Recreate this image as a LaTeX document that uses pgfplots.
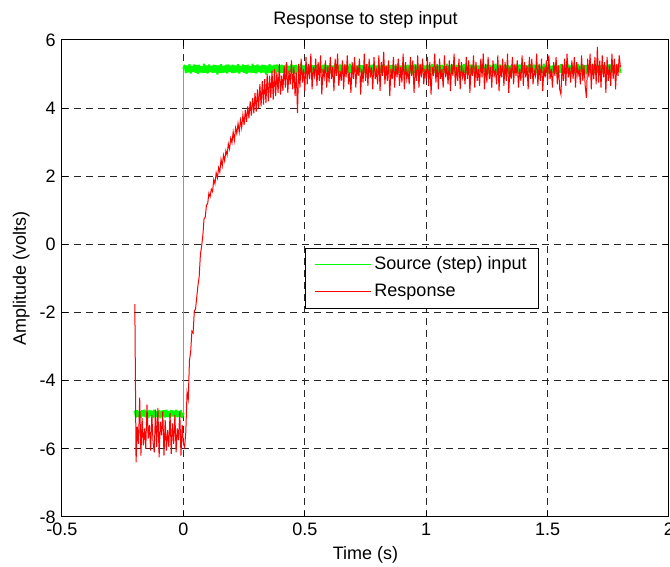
\documentclass[border=0pt]{standalone}
\usepackage{fontspec}
\setmainfont{Liberation Sans}
\usepackage{pgfplots}
\pgfplotsset{compat=1.18}
\begin{document}
\fontsize{9}{11}\selectfont
\begin{tikzpicture}
\begin{axis}[
  at={(31pt,25pt)}, anchor=south west,
  scale only axis, width=303.5pt, height=238.5pt,
  xmin=-0.5, xmax=2, ymin=-8, ymax=6,
  xtick={-0.5,0,0.5,1,1.5,2}, xticklabels={-0.5,0,0.5,1,1.5,2},
  ytick={-8,-6,-4,-2,0,2,4,6}, yticklabels={-8,-6,-4,-2,0,2,4,6},
  tick align=inside, tick pos=both, major tick length=3pt,
  every tick/.style={black, line width=0.5pt},
  axis line style={line width=0.5pt},
  grid=major,
  major grid style={line width=0.5pt, black!85, dash pattern=on 3.5pt off 2.5pt},
  axis on top=false,
  tick label style={font=\fontsize{9}{11}\selectfont},
  title={Response to step input},
  every axis title shift=0pt,
  title style={at={(axis description cs:0.5,1)}, anchor=south, yshift=2.5pt, font=\fontsize{9}{11}\selectfont},
  xlabel={Time (s)}, ylabel={Amplitude (volts)},
  every axis x label/.style={at={(axis description cs:0.5,0)}, anchor=base, yshift=-21.5pt, font=\fontsize{9}{11}\selectfont},
  every axis y label/.style={at={(axis description cs:0,0.5)}, rotate=90, anchor=base, yshift=18pt, font=\fontsize{9}{11}\selectfont},
  legend style={at={(axis description cs:0.4003,0.564)}, anchor=north west, draw=black, line width=0.5pt, fill=white,
    font=\fontsize{9}{11}\selectfont, inner xsep=4.5pt, inner ysep=1.5pt,
    nodes={inner xsep=1.5pt, inner ysep=2.5pt, text height=6.5pt, text depth=2pt}},
  legend cell align=left,
  legend image code/.code={\draw[#1, line width=0.5pt] (0pt,0pt) -- (28pt,0pt);},
]
% source (step) input: low level before the step (noise band)
\addplot[color={rgb,1:red,0;green,1;blue,0}, line width=1pt, line join=bevel, forget plot] coordinates {
(-0.200,-4.88)(-0.195,-5.08)(-0.190,-4.86)(-0.185,-5.06)(-0.180,-4.90)(-0.175,-5.09)(-0.170,-4.87)(-0.165,-5.05)(-0.160,-4.85)(-0.155,-5.08)
(-0.150,-4.89)(-0.145,-5.10)(-0.140,-4.86)(-0.135,-5.04)(-0.130,-4.88)(-0.125,-5.09)(-0.120,-4.85)(-0.115,-5.07)(-0.110,-4.90)(-0.105,-5.06)
(-0.100,-4.86)(-0.095,-5.10)(-0.090,-4.88)(-0.085,-5.05)(-0.080,-4.87)(-0.075,-5.08)(-0.070,-4.85)(-0.065,-5.06)(-0.060,-4.89)(-0.055,-5.09)
(-0.050,-4.86)(-0.045,-5.05)(-0.040,-4.88)(-0.035,-5.08)(-0.030,-4.85)(-0.025,-5.07)(-0.020,-4.89)(-0.015,-5.06)(-0.010,-4.87)(-0.005,-5.09)
(0.000,-4.95)
};
% source (step) input: the step itself
\addplot[color={rgb,1:red,0;green,1;blue,0}, line width=0.6pt] coordinates {
(0.000,-4.95)(0.000,5.15)
};
\addlegendentry{Source (step) input}
% source (step) input: high level after the step (noise band)
\addplot[color={rgb,1:red,0;green,1;blue,0}, line width=1pt, line join=bevel, forget plot] coordinates {
(0.000,5.15)
(0.005,5.27)(0.010,5.03)(0.015,5.25)(0.020,5.05)(0.025,5.29)(0.030,5.02)(0.035,5.24)(0.040,5.06)(0.045,5.28)(0.050,5.04)
(0.055,5.26)(0.060,5.01)(0.065,5.27)(0.070,5.05)(0.075,5.23)(0.080,5.03)(0.085,5.30)(0.090,5.04)(0.095,5.25)(0.100,5.02)
(0.105,5.28)(0.110,5.06)(0.115,5.24)(0.120,5.03)(0.125,5.27)(0.130,5.05)(0.135,5.26)(0.140,4.99)(0.145,5.25)(0.150,5.04)
(0.155,5.29)(0.160,5.03)(0.165,5.24)(0.170,5.05)(0.175,5.27)(0.180,5.02)(0.185,5.28)(0.190,5.06)(0.195,5.25)(0.200,5.03)
(0.205,5.27)(0.210,5.03)(0.215,5.25)(0.220,5.05)(0.225,5.29)(0.230,5.02)(0.235,5.24)(0.240,5.06)(0.245,5.28)(0.250,5.04)
(0.255,5.26)(0.260,5.01)(0.265,5.27)(0.270,5.05)(0.275,5.23)(0.280,5.03)(0.285,5.30)(0.290,5.04)(0.295,5.25)(0.300,5.02)
(0.305,5.28)(0.310,5.06)(0.315,5.24)(0.320,5.03)(0.325,5.27)(0.330,5.05)(0.335,5.26)(0.340,4.99)(0.345,5.25)(0.350,5.04)
(0.355,5.29)(0.360,5.03)(0.365,5.24)(0.370,5.05)(0.375,5.27)(0.380,5.02)(0.385,5.28)(0.390,5.06)(0.395,5.25)(0.400,5.03)
(0.405,5.27)(0.410,5.03)(0.415,5.25)(0.420,5.05)(0.425,5.29)(0.430,5.02)(0.435,5.24)(0.440,5.06)(0.445,5.28)(0.450,5.04)
(0.455,5.26)(0.460,5.01)(0.465,5.27)(0.470,5.05)(0.475,5.23)(0.480,5.03)(0.485,5.30)(0.490,5.04)(0.495,5.25)(0.500,5.02)
(0.505,5.28)(0.510,5.06)(0.515,5.24)(0.520,5.03)(0.525,5.27)(0.530,5.05)(0.535,5.26)(0.540,4.99)(0.545,5.25)(0.550,5.04)
(0.555,5.29)(0.560,5.03)(0.565,5.24)(0.570,5.05)(0.575,5.27)(0.580,5.02)(0.585,5.28)(0.590,5.06)(0.595,5.25)(0.600,5.03)
(0.605,5.27)(0.610,5.03)(0.615,5.25)(0.620,5.05)(0.625,5.29)(0.630,5.02)(0.635,5.24)(0.640,5.06)(0.645,5.28)(0.650,5.04)
(0.655,5.26)(0.660,5.01)(0.665,5.27)(0.670,5.05)(0.675,5.23)(0.680,5.03)(0.685,5.30)(0.690,5.04)(0.695,5.25)(0.700,5.02)
(0.705,5.28)(0.710,5.06)(0.715,5.24)(0.720,5.03)(0.725,5.27)(0.730,5.05)(0.735,5.26)(0.740,4.99)(0.745,5.25)(0.750,5.04)
(0.755,5.29)(0.760,5.03)(0.765,5.24)(0.770,5.05)(0.775,5.27)(0.780,5.02)(0.785,5.28)(0.790,5.06)(0.795,5.25)(0.800,5.03)
(0.805,5.27)(0.810,5.03)(0.815,5.25)(0.820,5.05)(0.825,5.29)(0.830,5.02)(0.835,5.24)(0.840,5.06)(0.845,5.28)(0.850,5.04)
(0.855,5.26)(0.860,5.01)(0.865,5.27)(0.870,5.05)(0.875,5.23)(0.880,5.03)(0.885,5.30)(0.890,5.04)(0.895,5.25)(0.900,5.02)
(0.905,5.28)(0.910,5.06)(0.915,5.24)(0.920,5.03)(0.925,5.27)(0.930,5.05)(0.935,5.26)(0.940,4.99)(0.945,5.25)(0.950,5.04)
(0.955,5.29)(0.960,5.03)(0.965,5.24)(0.970,5.05)(0.975,5.27)(0.980,5.02)(0.985,5.28)(0.990,5.06)(0.995,5.25)(1.000,5.03)
(1.005,5.27)(1.010,5.03)(1.015,5.25)(1.020,5.05)(1.025,5.29)(1.030,5.02)(1.035,5.24)(1.040,5.06)(1.045,5.28)(1.050,5.04)
(1.055,5.26)(1.060,5.01)(1.065,5.27)(1.070,5.05)(1.075,5.23)(1.080,5.03)(1.085,5.30)(1.090,5.04)(1.095,5.25)(1.100,5.02)
(1.105,5.28)(1.110,5.06)(1.115,5.24)(1.120,5.03)(1.125,5.27)(1.130,5.05)(1.135,5.26)(1.140,4.99)(1.145,5.25)(1.150,5.04)
(1.155,5.29)(1.160,5.03)(1.165,5.24)(1.170,5.05)(1.175,5.27)(1.180,5.02)(1.185,5.28)(1.190,5.06)(1.195,5.25)(1.200,5.03)
(1.205,5.27)(1.210,5.03)(1.215,5.25)(1.220,5.05)(1.225,5.29)(1.230,5.02)(1.235,5.24)(1.240,5.06)(1.245,5.28)(1.250,5.04)
(1.255,5.26)(1.260,5.01)(1.265,5.27)(1.270,5.05)(1.275,5.23)(1.280,5.03)(1.285,5.30)(1.290,5.04)(1.295,5.25)(1.300,5.02)
(1.305,5.28)(1.310,5.06)(1.315,5.24)(1.320,5.03)(1.325,5.27)(1.330,5.05)(1.335,5.26)(1.340,4.99)(1.345,5.25)(1.350,5.04)
(1.355,5.29)(1.360,5.03)(1.365,5.24)(1.370,5.05)(1.375,5.27)(1.380,5.02)(1.385,5.28)(1.390,5.06)(1.395,5.25)(1.400,5.03)
(1.405,5.27)(1.410,5.03)(1.415,5.25)(1.420,5.05)(1.425,5.29)(1.430,5.02)(1.435,5.24)(1.440,5.06)(1.445,5.28)(1.450,5.04)
(1.455,5.26)(1.460,5.01)(1.465,5.27)(1.470,5.05)(1.475,5.23)(1.480,5.03)(1.485,5.30)(1.490,5.04)(1.495,5.25)(1.500,5.02)
(1.505,5.28)(1.510,5.06)(1.515,5.24)(1.520,5.03)(1.525,5.27)(1.530,5.05)(1.535,5.26)(1.540,4.99)(1.545,5.25)(1.550,5.04)
(1.555,5.29)(1.560,5.03)(1.565,5.24)(1.570,5.05)(1.575,5.27)(1.580,5.02)(1.585,5.28)(1.590,5.06)(1.595,5.25)(1.600,5.03)
(1.605,5.27)(1.610,5.03)(1.615,5.25)(1.620,5.05)(1.625,5.29)(1.630,5.02)(1.635,5.24)(1.640,5.06)(1.645,5.28)(1.650,5.04)
(1.655,5.26)(1.660,5.01)(1.665,5.27)(1.670,5.05)(1.675,5.23)(1.680,5.03)(1.685,5.30)(1.690,5.04)(1.695,5.25)(1.700,5.02)
(1.705,5.28)(1.710,5.06)(1.715,5.24)(1.720,5.03)(1.725,5.27)(1.730,5.05)(1.735,5.26)(1.740,4.99)(1.745,5.25)(1.750,5.04)
(1.755,5.29)(1.760,5.03)(1.765,5.24)(1.770,5.05)(1.775,5.27)(1.780,5.02)(1.785,5.28)(1.790,5.06)(1.795,5.25)(1.800,5.03)
};
\addplot[color={rgb,1:red,1;green,0;blue,0}, line width=0.5pt] coordinates {
(-0.200,-1.75)(-0.195,-6.40)(-0.190,-5.35)(-0.185,-5.85)(-0.180,-4.50)(-0.175,-6.20)(-0.170,-5.10)(-0.165,-5.90)(-0.160,-5.40)(-0.155,-6.00)
(-0.150,-4.70)(-0.145,-5.70)(-0.140,-5.30)(-0.135,-6.05)(-0.130,-5.00)(-0.125,-5.80)(-0.120,-6.10)(-0.115,-4.85)(-0.110,-5.95)(-0.105,-4.80)
(-0.100,-6.25)(-0.095,-5.20)(-0.090,-5.60)(-0.085,-4.90)(-0.080,-6.20)(-0.075,-5.15)(-0.070,-6.05)(-0.065,-5.45)(-0.060,-5.95)(-0.055,-4.95)
(-0.050,-6.15)(-0.045,-5.25)(-0.040,-5.85)(-0.035,-5.00)(-0.030,-6.10)(-0.025,-5.40)(-0.020,-5.75)(-0.015,-4.90)(-0.010,-6.20)(-0.005,-5.30)
(0.000,-5.85)
(0.005,-5.95)(0.010,-5.50)(0.015,-4.35)(0.020,-4.55)(0.025,-3.40)(0.030,-3.15)(0.035,-2.55)(0.040,-2.60)(0.045,-1.95)(0.050,-1.90)
(0.055,-1.55)(0.060,-1.20)(0.065,-0.95)(0.070,-0.30)(0.075,-0.05)(0.080,0.25)(0.085,0.75)(0.090,0.80)(0.095,1.15)(0.100,1.20)
(0.105,1.50)(0.110,1.40)(0.115,1.62)(0.120,1.55)(0.125,1.90)(0.130,1.78)(0.135,2.10)(0.140,1.95)(0.145,2.25)(0.150,2.12)
(0.155,2.50)(0.160,2.30)(0.165,2.62)(0.170,2.45)(0.175,2.75)(0.180,2.62)(0.185,2.95)(0.190,2.80)(0.195,3.12)(0.200,2.98)
(0.205,3.30)(0.210,3.05)(0.215,3.42)(0.220,3.25)(0.225,3.55)(0.230,3.30)(0.235,3.65)(0.240,3.42)(0.245,3.80)(0.250,3.50)
(0.255,3.95)(0.260,3.60)(0.265,4.05)(0.270,3.70)(0.275,4.20)(0.280,3.78)(0.285,4.30)(0.290,3.85)(0.295,4.45)(0.300,3.90)
(0.305,4.55)(0.310,4.00)(0.315,4.70)(0.320,4.05)(0.325,4.80)(0.330,4.10)(0.335,4.85)(0.340,4.15)(0.345,5.00)(0.350,4.20)
(0.355,4.95)(0.360,4.30)(0.365,5.10)(0.370,4.25)(0.375,5.15)(0.380,4.35)(0.385,5.05)(0.390,4.45)(0.395,5.30)(0.400,4.40)
(0.405,4.95)(0.410,4.50)(0.415,5.25)(0.420,4.60)(0.425,5.35)(0.430,4.45)(0.435,5.10)(0.440,4.70)(0.445,5.40)(0.450,4.55)
(0.455,5.20)(0.460,4.35)(0.465,5.05)(0.470,3.85)(0.475,5.30)(0.480,4.60)(0.485,5.45)(0.490,4.75)(0.495,5.15)(0.500,4.50)
(0.505,5.50)(0.510,4.70)(0.515,5.30)(0.520,4.85)(0.525,5.60)(0.530,4.55)(0.535,5.20)(0.540,4.95)(0.545,5.45)(0.550,4.65)
(0.555,5.35)(0.560,4.80)(0.565,5.55)(0.570,4.40)(0.575,5.15)(0.580,4.90)(0.585,5.40)(0.590,4.60)(0.595,5.25)(0.600,4.75)
(0.605,5.50)(0.610,4.85)(0.615,5.20)(0.620,4.50)(0.625,5.45)(0.630,4.95)(0.635,5.60)(0.640,4.65)(0.645,5.10)(0.650,4.80)
(0.655,5.40)(0.660,4.55)(0.665,5.30)(0.670,4.90)(0.675,5.55)(0.680,4.70)(0.685,5.05)(0.690,4.45)(0.695,5.35)(0.700,4.85)
(0.705,5.50)(0.710,4.60)(0.715,5.25)(0.720,4.95)(0.725,5.45)(0.730,4.40)(0.735,5.15)(0.740,4.75)(0.745,5.60)(0.750,4.80)
(0.755,5.30)(0.760,4.65)(0.765,5.45)(0.770,4.90)(0.775,5.20)(0.780,4.55)(0.785,5.50)(0.790,4.85)(0.795,5.10)(0.800,4.70)
(0.805,5.55)(0.810,4.50)(0.815,5.35)(0.820,4.95)(0.825,5.65)(0.830,4.70)(0.835,5.25)(0.840,4.80)(0.845,5.40)(0.850,4.35)
(0.855,5.15)(0.860,4.85)(0.865,5.50)(0.870,4.60)(0.875,5.30)(0.880,4.90)(0.885,5.45)(0.890,4.65)(0.895,5.20)(0.900,4.75)
(0.905,5.60)(0.910,4.55)(0.915,5.35)(0.920,4.85)(0.925,5.10)(0.930,4.70)(0.935,5.50)(0.940,4.95)(0.945,5.40)(0.950,4.45)
(0.955,5.25)(0.960,4.80)(0.965,5.55)(0.970,4.60)(0.975,5.30)(0.980,4.90)(0.985,5.45)(0.990,4.70)(0.995,5.15)(1.000,4.85)
(1.005,5.50)(1.010,4.65)(1.015,5.35)(1.020,4.40)(1.025,5.20)(1.030,4.95)(1.035,5.60)(1.040,4.75)(1.045,5.30)(1.050,4.55)
(1.055,5.45)(1.060,4.85)(1.065,5.15)(1.070,4.60)(1.075,5.55)(1.080,4.90)(1.085,5.25)(1.090,4.70)(1.095,5.40)(1.100,4.50)
(1.105,5.30)(1.110,4.95)(1.115,5.60)(1.120,4.65)(1.125,5.20)(1.130,4.80)(1.135,5.45)(1.140,4.55)(1.145,5.35)(1.150,4.90)
(1.155,5.10)(1.160,4.70)(1.165,5.50)(1.170,4.85)(1.175,5.40)(1.180,4.45)(1.185,5.25)(1.190,4.95)(1.195,5.55)(1.200,4.60)
(1.205,5.35)(1.210,4.80)(1.215,5.15)(1.220,4.65)(1.225,5.45)(1.230,4.90)(1.235,5.60)(1.240,4.55)(1.245,5.30)(1.250,4.75)
(1.255,5.50)(1.260,4.85)(1.265,5.20)(1.270,4.60)(1.275,5.40)(1.280,4.95)(1.285,5.10)(1.290,4.70)(1.295,5.55)(1.300,4.50)
(1.305,5.25)(1.310,4.90)(1.315,5.45)(1.320,4.65)(1.325,5.35)(1.330,4.80)(1.335,5.60)(1.340,4.45)(1.345,5.20)(1.350,4.85)
(1.355,5.50)(1.360,4.70)(1.365,5.30)(1.370,4.95)(1.375,5.40)(1.380,4.60)(1.385,5.15)(1.390,4.80)(1.395,5.55)(1.400,4.65)
(1.405,5.35)(1.410,4.90)(1.415,5.25)(1.420,4.55)(1.425,5.50)(1.430,4.85)(1.435,5.45)(1.440,4.70)(1.445,5.10)(1.450,4.95)
(1.455,5.60)(1.460,4.65)(1.465,5.30)(1.470,4.80)(1.475,5.45)(1.480,4.50)(1.485,5.20)(1.490,4.90)(1.495,5.40)(1.500,4.75)
(1.505,5.55)(1.510,4.85)(1.515,5.15)(1.520,4.60)(1.525,5.35)(1.530,4.95)(1.535,5.50)(1.540,4.70)(1.545,5.25)(1.550,4.55)
(1.555,4.40)(1.560,5.30)(1.565,4.80)(1.570,5.45)(1.575,4.65)(1.580,5.60)(1.585,4.90)(1.590,5.20)(1.595,4.75)(1.600,5.40)
(1.605,4.85)(1.610,5.50)(1.615,4.60)(1.620,5.35)(1.625,4.95)(1.630,5.15)(1.635,4.70)(1.640,5.55)(1.645,4.80)(1.650,5.25)
(1.655,4.65)(1.660,4.30)(1.665,5.45)(1.670,4.90)(1.675,5.60)(1.680,4.55)(1.685,5.30)(1.690,4.85)(1.695,5.50)(1.700,4.70)
(1.705,5.80)(1.710,4.75)(1.715,5.40)(1.720,4.60)(1.725,5.55)(1.730,4.90)(1.735,5.35)(1.740,4.45)(1.745,5.50)(1.750,4.80)
(1.755,5.25)(1.760,4.65)(1.765,5.60)(1.770,4.85)(1.775,5.45)(1.780,4.55)(1.785,5.30)(1.790,4.95)(1.795,5.55)(1.800,5.20)
};
\addlegendentry{Response}
\end{axis}
\pgfresetboundingbox
\path[use as bounding box] (0pt,0pt) rectangle (335pt,283.5pt);
\end{tikzpicture}
\end{document}
